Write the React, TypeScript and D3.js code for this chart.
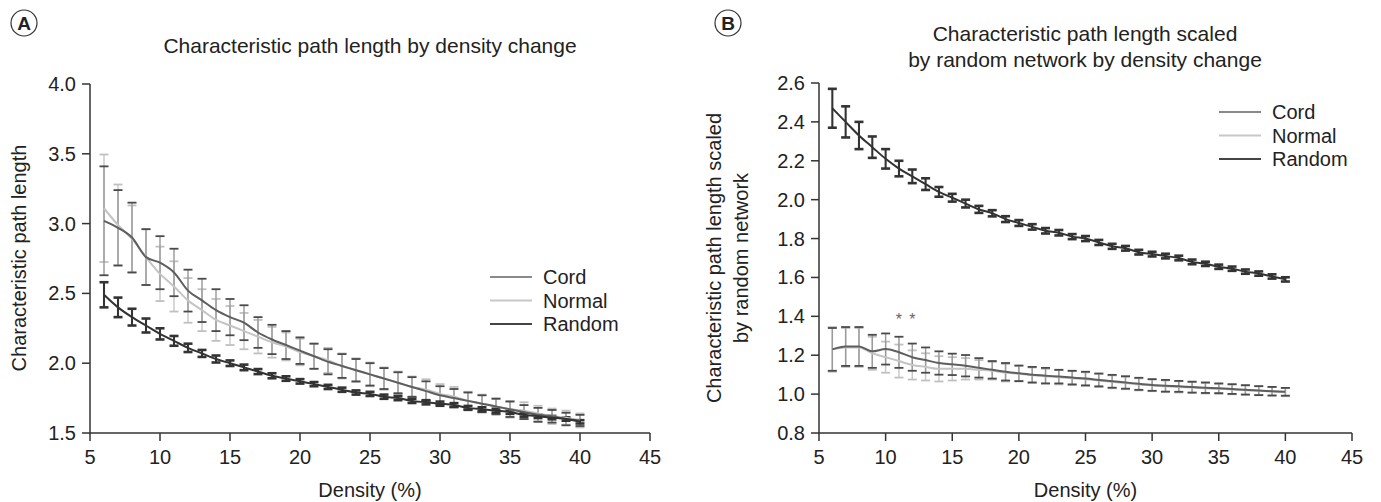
import React from "react";
import * as d3 from "d3";

const densities = [6,7,8,9,10,11,12,13,14,15,16,17,18,19,20,21,22,23,24,25,26,27,28,29,30,31,32,33,34,35,36,37,38,39,40];

const cordA = [3.02,2.97,2.90,2.76,2.72,2.65,2.52,2.45,2.38,2.33,2.29,2.22,2.17,2.13,2.09,2.05,2.01,1.98,1.95,1.92,1.89,1.86,1.83,1.80,1.77,1.75,1.73,1.71,1.69,1.67,1.65,1.63,1.62,1.60,1.59];
const cordAErr = [0.39,0.27,0.25,0.20,0.19,0.17,0.15,0.155,0.15,0.13,0.125,0.11,0.105,0.10,0.095,0.09,0.09,0.085,0.08,0.08,0.075,0.075,0.07,0.07,0.065,0.065,0.06,0.06,0.055,0.055,0.05,0.05,0.045,0.045,0.04];
const normalA = [3.11,2.99,2.89,2.76,2.64,2.55,2.45,2.38,2.31,2.27,2.23,2.19,2.15,2.12,2.08,2.05,2.02,1.98,1.95,1.92,1.89,1.86,1.83,1.81,1.78,1.76,1.73,1.71,1.69,1.67,1.66,1.64,1.62,1.61,1.59];
const normalAErr = [0.385,0.29,0.24,0.20,0.195,0.18,0.16,0.15,0.15,0.14,0.13,0.12,0.11,0.10,0.095,0.09,0.09,0.09,0.085,0.085,0.08,0.08,0.075,0.075,0.07,0.07,0.065,0.065,0.06,0.06,0.06,0.055,0.055,0.05,0.05];
const randomA = [2.49,2.40,2.33,2.27,2.21,2.16,2.11,2.07,2.03,2.00,1.97,1.94,1.91,1.89,1.87,1.85,1.83,1.81,1.79,1.78,1.76,1.75,1.73,1.72,1.71,1.70,1.68,1.67,1.66,1.65,1.63,1.62,1.61,1.60,1.58];
const randomAErr = [0.09,0.07,0.06,0.05,0.04,0.035,0.03,0.025,0.025,0.02,0.02,0.018,0.018,0.016,0.016,0.015,0.015,0.015,0.015,0.015,0.015,0.015,0.015,0.015,0.015,0.014,0.014,0.014,0.014,0.013,0.013,0.013,0.012,0.012,0.012];

const cordB = [1.23,1.245,1.245,1.22,1.232,1.215,1.19,1.175,1.16,1.153,1.146,1.135,1.125,1.115,1.107,1.10,1.095,1.09,1.085,1.08,1.073,1.066,1.06,1.053,1.047,1.043,1.04,1.036,1.033,1.03,1.026,1.022,1.018,1.015,1.012];
const cordBErr = [0.11,0.10,0.10,0.085,0.08,0.08,0.07,0.065,0.06,0.055,0.055,0.05,0.045,0.045,0.04,0.04,0.04,0.035,0.035,0.035,0.033,0.033,0.032,0.031,0.03,0.03,0.028,0.028,0.027,0.025,0.025,0.024,0.023,0.022,0.02];
const normalB = [1.23,1.24,1.24,1.21,1.19,1.17,1.15,1.14,1.13,1.13,1.13,1.125,1.12,1.11,1.105,1.097,1.092,1.087,1.082,1.077,1.07,1.063,1.057,1.05,1.045,1.04,1.037,1.034,1.03,1.027,1.024,1.02,1.017,1.014,1.01];
const normalBErr = [0.115,0.10,0.10,0.085,0.08,0.085,0.075,0.07,0.065,0.06,0.055,0.05,0.045,0.045,0.04,0.04,0.038,0.037,0.036,0.035,0.034,0.033,0.032,0.031,0.03,0.03,0.029,0.028,0.027,0.026,0.025,0.024,0.023,0.022,0.021];
const randomB = [2.47,2.40,2.33,2.27,2.21,2.16,2.12,2.08,2.04,2.01,1.98,1.95,1.93,1.90,1.88,1.86,1.84,1.83,1.81,1.80,1.78,1.76,1.75,1.73,1.72,1.71,1.70,1.68,1.67,1.655,1.645,1.63,1.62,1.605,1.59];
const randomBErr = [0.10,0.08,0.07,0.055,0.05,0.04,0.035,0.03,0.025,0.02,0.02,0.018,0.016,0.015,0.015,0.014,0.014,0.014,0.013,0.013,0.013,0.013,0.012,0.012,0.012,0.012,0.012,0.012,0.011,0.011,0.011,0.011,0.011,0.011,0.011];

const xTicks = [5,10,15,20,25,30,35,40,45];
const yTicksA = [1.5,2.0,2.5,3.0,3.5,4.0];
const yTicksB = [0.8,1.0,1.2,1.4,1.6,1.8,2.0,2.2,2.4,2.6];
const seriesNames = ["Cord","Normal","Random"];
const starDensities = [11,12];
const starValue = 1.40;

const FONT = "'Liberation Sans', Arial, Helvetica, sans-serif";
const TEXT = "#222";
const AXIS = "#333";

const STYLE: Record<string, {line: string; stem: string; cap: string; w: number; bw: number; legend: string}> = {
  Cord: { line: "#5e5e5e", stem: "#9a9a9a", cap: "#4a4a4a", w: 2, bw: 1.8, legend: "#8a8a8a" },
  Normal: { line: "#c4c4c4", stem: "#c8c8c8", cap: "#c0c0c0", w: 2, bw: 1.8, legend: "#c8c8c8" },
  Random: { line: "#333333", stem: "#333333", cap: "#333333", w: 2, bw: 2.6, legend: "#444444" },
};

type Series = { name: string; values: number[]; errs: number[] };

function Panel(props: {
  x0: number; x1: number; y0: number; y1: number;
  yDomain: [number, number]; yTicks: number[];
  series: Series[]; legendX: number; legendY: number;
  stars?: boolean;
}) {
  const { x0, x1, y0, y1, yDomain, yTicks, series, legendX, legendY, stars } = props;
  const x = d3.scaleLinear().domain([5, 45]).range([x0, x1]);
  const y = d3.scaleLinear().domain(yDomain).range([y0, y1]);
  const line = d3.line<number>()
    .x((_, i) => x(densities[i]))
    .y((v) => y(v))
    .curve(d3.curveMonotoneX);
  const capW = 4.5;
  const order = ["Normal", "Cord", "Random"];
  const sorted = order.map((n) => series.find((s) => s.name === n)!);
  return (
    <g>
      {sorted.map((s) => {
        const st = STYLE[s.name];
        return (
          <g key={"eb" + s.name}>
            {s.values.map((v, i) => {
              const cx = x(densities[i]);
              const yt = y(v + s.errs[i]);
              const yb = y(v - s.errs[i]);
              return (
                <g key={i}>
                  <line x1={cx} x2={cx} y1={yt} y2={yb} stroke={st.stem} strokeWidth={st.bw * 0.8} />
                  <line x1={cx - capW} x2={cx + capW} y1={yt} y2={yt} stroke={st.cap} strokeWidth={st.bw} />
                  <line x1={cx - capW} x2={cx + capW} y1={yb} y2={yb} stroke={st.cap} strokeWidth={st.bw} />
                </g>
              );
            })}
          </g>
        );
      })}
      {sorted.map((s) => {
        const st = STYLE[s.name];
        return <path key={"ln" + s.name} d={line(s.values) || ""} fill="none" stroke={st.line} strokeWidth={st.w} />;
      })}
      {stars && starDensities.map((d) => (
        <text key={"st" + d} x={x(d)} y={y(starValue) + 9} textAnchor="middle" fontSize={16} fill="#666" fontFamily={FONT}>*</text>
      ))}
      <line x1={x0} x2={x1} y1={y0} y2={y0} stroke={AXIS} strokeWidth={1.5} />
      <line x1={x0} x2={x0} y1={y0} y2={y1} stroke={AXIS} strokeWidth={1.5} />
      {xTicks.map((t) => (
        <g key={"xt" + t}>
          <line x1={x(t)} x2={x(t)} y1={y0} y2={y0 + 8} stroke={AXIS} strokeWidth={1.5} />
          <text x={x(t)} y={y0 + 31} textAnchor="middle" fontSize={20} fill={TEXT} fontFamily={FONT}>{t}</text>
        </g>
      ))}
      {yTicks.map((t) => (
        <g key={"yt" + t}>
          <line x1={x0 - 8} x2={x0} y1={y(t)} y2={y(t)} stroke={AXIS} strokeWidth={1.5} />
          <text x={x0 - 14} y={y(t) + 7} textAnchor="end" fontSize={20} fill={TEXT} fontFamily={FONT}>{d3.format(".1f")(t)}</text>
        </g>
      ))}
      <text x={(x0 + x1) / 2} y={497} textAnchor="middle" fontSize={20} fill={TEXT} fontFamily={FONT}>Density (%)</text>
      {seriesNames.map((n, i) => (
        <g key={"lg" + n}>
          <line x1={legendX} x2={legendX + 42} y1={legendY + i * 23.5} y2={legendY + i * 23.5} stroke={STYLE[n].legend} strokeWidth={2} />
          <text x={legendX + 53} y={legendY + i * 23.5 + 7} fontSize={20} fill={TEXT} fontFamily={FONT}>{n}</text>
        </g>
      ))}
    </g>
  );
}

export default function App() {
  const seriesA: Series[] = [
    { name: "Cord", values: cordA, errs: cordAErr },
    { name: "Normal", values: normalA, errs: normalAErr },
    { name: "Random", values: randomA, errs: randomAErr },
  ];
  const seriesB: Series[] = [
    { name: "Cord", values: cordB, errs: cordBErr },
    { name: "Normal", values: normalB, errs: normalBErr },
    { name: "Random", values: randomB, errs: randomBErr },
  ];
  return (
    <svg width={1381} height={502} style={{ position: "absolute", left: 0, top: 0, background: "#fff" }}
      fontFamily={FONT}>
      <rect x={0} y={0} width={1381} height={502} fill="#fff" />
      <circle cx={24} cy={23} r={13} fill="none" stroke="#333" strokeWidth={1.2} />
      <text x={24} y={30} textAnchor="middle" fontSize={19} fontWeight="bold" fill={TEXT}>A</text>
      <circle cx={728} cy={23} r={13} fill="none" stroke="#333" strokeWidth={1.2} />
      <text x={728} y={30} textAnchor="middle" fontSize={19} fontWeight="bold" fill={TEXT}>B</text>

      <text x={370} y={53} textAnchor="middle" fontSize={21} fill={TEXT}>Characteristic path length by density change</text>
      <text x={1085} y={41} textAnchor="middle" fontSize={21} fill={TEXT}>Characteristic path length scaled</text>
      <text x={1085} y={67} textAnchor="middle" fontSize={21} fill={TEXT}>by random network by density change</text>

      <text transform="translate(26,258) rotate(-90)" textAnchor="middle" fontSize={20} fill={TEXT}>Characteristic path length</text>
      <text transform="translate(721,258) rotate(-90)" textAnchor="middle" fontSize={20} fill={TEXT}>Characteristic path length scaled</text>
      <text transform="translate(748,258) rotate(-90)" textAnchor="middle" fontSize={20} fill={TEXT}>by random network</text>

      <Panel x0={90} x1={650} y0={433} y1={84} yDomain={[1.5, 4.0]} yTicks={yTicksA}
        series={seriesA} legendX={490} legendY={277} />
      <Panel x0={819} x1={1352} y0={433} y1={83} yDomain={[0.8, 2.6]} yTicks={yTicksB}
        series={seriesB} legendX={1219} legendY={112} stars />
    </svg>
  );
}
